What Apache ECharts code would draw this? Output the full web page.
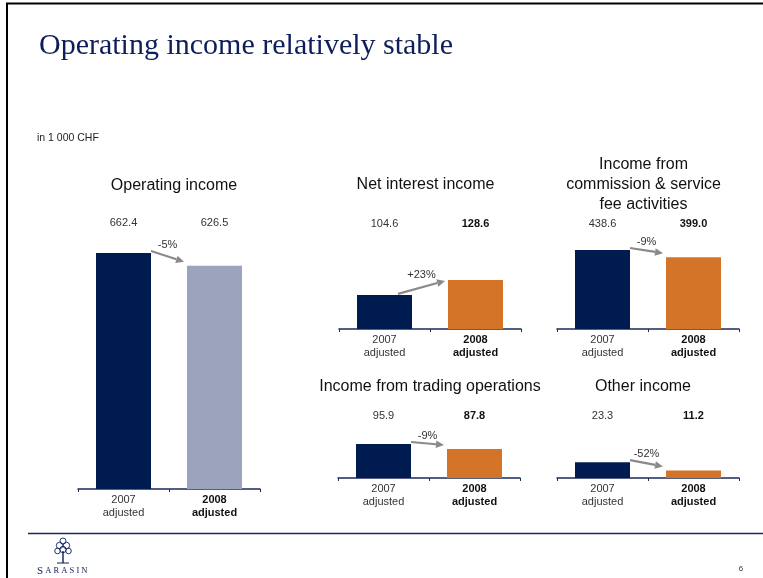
<!DOCTYPE html>
<html>
<head>
<meta charset="utf-8">
<script src="https://cdn.jsdelivr.net/npm/echarts@6/dist/echarts.min.js"></script>
<style>
html,body{margin:0;padding:0;background:#fff;}
#chart{width:763px;height:578px;}
</style>
</head>
<body>
<div id="chart"></div>
<script>
// ---- data ----
const categories = ['2007\nadjusted', '2008\nadjusted'];
const panelTitles = ['Operating income', 'Net interest income', 'Income from\ncommission & service\nfee activities', 'Income from trading operations', 'Other income'];
const values2007 = [662.4, 104.6, 438.6, 95.9, 23.3];
const values2008 = [626.5, 128.6, 399.0, 87.8, 11.2];
const changeLabels = ['-5%', '+23%', '-9%', '-9%', '-52%'];
const mainTitle = 'Operating income relatively stable';
const unitLabel = 'in 1 000 CHF';
const pageNumber = '6';

// ---- layout / style ----
const NAVY = '#001b50';
const ORANGE = '#d47428';
const GREYBLUE = '#9ca4bd';
const LOGO = '#0e1e5b';
const FONT = "'Liberation Sans', Arial, sans-serif";
const layout = [
  {left: 78,  width: 182, axisY: 489, height: 249.4, min: 0,  max: 700, rowY: 222, titleX: 174, titleY: 186, c2: GREYBLUE, bold: false},
  {left: 339, width: 182, axisY: 329, height: 56.25, min: 50, max: 140, rowY: 223, titleX: 425.5, titleY: 185, c2: ORANGE, bold: true},
  {left: 557, width: 182, axisY: 329, height: 90.05, min: 0,  max: 500, rowY: 223, titleX: 643.5, titleY: 185, c2: ORANGE, bold: true},
  {left: 338, width: 182, axisY: 478, height: 48.64, min: 40, max: 120, rowY: 415, titleX: 430, titleY: 387, c2: ORANGE, bold: true},
  {left: 557, width: 182, axisY: 478, height: 27.2,  min: 0,  max: 40,  rowY: 415, titleX: 643, titleY: 387, c2: ORANGE, bold: true}
];

const grids = [], xAxes = [], yAxes = [], series = [], titles = [];

titles.push({text: mainTitle, left: 39, top: 31, padding: 0,
  textStyle: {fontFamily: "'Liberation Serif', 'Times New Roman', serif", fontSize: 30, fontWeight: 'normal', color: '#0e1e5b', lineHeight: 30}});
titles.push({text: unitLabel, left: 37, top: 132.5, padding: 0,
  textStyle: {fontFamily: FONT, fontSize: 10.5, fontWeight: 'normal', color: '#222', lineHeight: 12}});

layout.forEach((L, i) => {
  const top = L.axisY - L.height;
  grids.push({left: L.left, width: L.width, top: top, height: L.height, containLabel: false, outerBoundsMode: 'none'});
  const nLines = panelTitles[i].split('\n').length;
  titles.push({text: panelTitles[i], left: L.titleX, textAlign: 'center', top: L.titleY - nLines * 10, padding: 0,
    textStyle: {fontFamily: FONT, fontSize: 16, fontWeight: 'normal', color: '#111', lineHeight: 20}});
  // bottom category axis
  xAxes.push({
    type: 'category', gridIndex: i, position: 'bottom',
    data: categories.map((c, k) => k === 1 ? {value: c, textStyle: {fontWeight: 'bold', color: '#111'}} : {value: c}),
    axisLine: {show: true, lineStyle: {color: '#1b2a5a', width: 1.5}},
    axisTick: {show: true, interval: 0, length: 3, lineStyle: {color: '#1b2a5a', width: 1}},
    axisLabel: {interval: 0, margin: 4, fontSize: 11, lineHeight: 13, color: '#333', fontFamily: FONT},
    splitLine: {show: false}
  });
  // top value-row axis
  const vals = [values2007[i], values2008[i]].map(v => v.toFixed(1));
  xAxes.push({
    type: 'category', gridIndex: i, position: 'top',
    data: vals.map((v, k) => (k === 1 && L.bold) ? {value: v, textStyle: {fontWeight: 'bold', color: '#111'}} : {value: v}),
    axisLine: {show: false}, axisTick: {show: false}, splitLine: {show: false},
    axisLabel: {interval: 0, margin: top - L.rowY - 6.5, fontSize: 11, color: '#333', fontFamily: FONT}
  });
  yAxes.push({type: 'value', gridIndex: i, min: L.min, max: L.max, startValue: L.min, show: false, splitLine: {show: false}});
  series.push({
    type: 'bar', xAxisIndex: i * 2, yAxisIndex: i, barWidth: 55, silent: true, clip: true,
    data: [{value: values2007[i], itemStyle: {color: NAVY}}, {value: values2008[i], itemStyle: {color: L.c2}}]
  });
  series.push({
    type: 'custom', xAxisIndex: i * 2, yAxisIndex: i, silent: true, z: 10,
    data: [[0, values2007[i], values2008[i], i]],
    encode: {x: 0, y: 1},
    renderItem: function (params, api) {
      const v0 = api.value(1), v1 = api.value(2), idx = api.value(3);
      const p0 = api.coord([0, v0]);
      const p1 = api.coord([1, v1]);
      const hw = 27.5;
      let x0, y0, x1, y1;
      if (v1 > v0) {
        x0 = p0[0] + hw - 14; y0 = p0[1] - 1;
        x1 = p1[0] - hw - 3;  y1 = p1[1] + 1;
      } else {
        x0 = p0[0] + hw;      y0 = p0[1] - 2;
        x1 = p1[0] - hw - 3;  y1 = p1[1] - 4;
      }
      const ang = Math.atan2(y1 - y0, x1 - x0);
      const hl = 8, hwid = 3.8;
      const bx = x1 - hl * Math.cos(ang), by = y1 - hl * Math.sin(ang);
      const nx = -Math.sin(ang), ny = Math.cos(ang);
      return {
        type: 'group',
        children: [
          {type: 'line', shape: {x1: x0, y1: y0, x2: bx, y2: by}, style: {stroke: '#8a8a8a', lineWidth: 2.2}},
          {type: 'polygon', shape: {points: [[x1, y1], [bx + nx * hwid, by + ny * hwid], [bx - nx * hwid, by - ny * hwid]]}, style: {fill: '#8a8a8a'}},
          {type: 'text', x: (x0 + x1) / 2, y: Math.min(y0, y1) - 6,
           style: {text: changeLabels[idx], fill: '#333', font: '11px ' + FONT, align: 'center', verticalAlign: 'middle'}}
        ]
      };
    }
  });
});

const chart = echarts.init(document.getElementById('chart'), null, {renderer: 'canvas'});
chart.setOption({
  backgroundColor: '#ffffff',
  animation: false,
  title: titles,
  grid: grids,
  xAxis: xAxes,
  yAxis: yAxes,
  series: series,
  graphic: [
    {type: 'rect', shape: {x: 7, y: 3.5, width: 800, height: 620}, style: {fill: 'none', stroke: '#000', lineWidth: 2}, silent: true},
    {type: 'line', shape: {x1: 28, y1: 533.5, x2: 763, y2: 533.5}, style: {stroke: '#1b2a5a', lineWidth: 1.5}, silent: true},
    // tree logo
    {type: 'group', silent: true, children: [
      {type: 'line', shape: {x1: 63, y1: 551, x2: 63, y2: 563}, style: {stroke: LOGO, lineWidth: 1.4}},
      {type: 'line', shape: {x1: 57, y1: 563, x2: 69, y2: 563}, style: {stroke: LOGO, lineWidth: 1}},
      {type: 'circle', shape: {cx: 63, cy: 541, r: 3}, style: {fill: 'none', stroke: LOGO, lineWidth: 0.9}},
      {type: 'circle', shape: {cx: 59.5, cy: 545.5, r: 3.2}, style: {fill: 'none', stroke: LOGO, lineWidth: 0.9}},
      {type: 'circle', shape: {cx: 66.5, cy: 545.5, r: 3.2}, style: {fill: 'none', stroke: LOGO, lineWidth: 0.9}},
      {type: 'circle', shape: {cx: 63, cy: 549.5, r: 3.2}, style: {fill: 'none', stroke: LOGO, lineWidth: 0.9}},
      {type: 'circle', shape: {cx: 57.5, cy: 551, r: 2.8}, style: {fill: 'none', stroke: LOGO, lineWidth: 0.9}},
      {type: 'circle', shape: {cx: 68.5, cy: 551, r: 2.8}, style: {fill: 'none', stroke: LOGO, lineWidth: 0.9}}
    ]},
    {type: 'text', x: 37, y: 571, silent: true, style: {
      text: '{a|S}{b| A R A S I N}', verticalAlign: 'middle', fill: LOGO,
      rich: {a: {fontSize: 11, fontFamily: "'Liberation Serif', serif", fill: LOGO}, b: {fontSize: 8.5, fontFamily: "'Liberation Serif', serif", fill: LOGO}}
    }},
    {type: 'text', x: 741, y: 569, silent: true, style: {text: pageNumber, font: '8px ' + FONT, fill: '#333', align: 'center', verticalAlign: 'middle'}}
  ]
});
</script>
</body>
</html>
